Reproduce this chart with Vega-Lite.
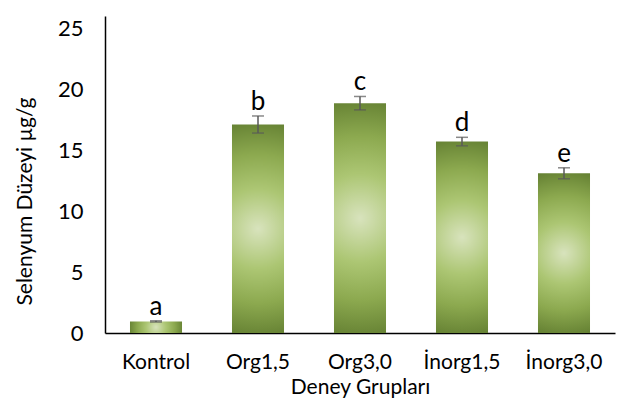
{
  "$schema": "https://vega.github.io/schema/vega-lite/v6.json",
  "width": 510,
  "height": 317,
  "autosize": "none",
  "padding": {"left": 105, "top": 16, "right": 16, "bottom": 74},
  "background": "white",
  "config": {"view": {"stroke": null}, "font": "Lato"},
  "data": {"values": [
    {"grup": "Kontrol", "mean": 0.95, "lo": 0.9, "hi": 1.0, "harf": "a"},
    {"grup": "Org1,5", "mean": 17.1, "lo": 16.4, "hi": 17.8, "harf": "b"},
    {"grup": "Org3,0", "mean": 18.85, "lo": 18.3, "hi": 19.4, "harf": "c"},
    {"grup": "İnorg1,5", "mean": 15.7, "lo": 15.35, "hi": 16.05, "harf": "d"},
    {"grup": "İnorg3,0", "mean": 13.1, "lo": 12.65, "hi": 13.55, "harf": "e"}
  ]},
  "encoding": {
    "x": {"field": "grup", "type": "nominal", "sort": null,
      "scale": {"paddingInner": 0.49, "paddingOuter": 0.245},
      "axis": {"title": "Deney Grupları", "labelAngle": 0, "labelFontSize": 21, "titleFontSize": 21, "titleFontWeight": "normal", "labelColor": "#000", "titleColor": "#000", "ticks": false, "labelPadding": 18, "titlePadding": 4, "domainColor": "#000", "domainWidth": 1.5}}
  },
  "layer": [
    {
      "mark": {"type": "bar", "color": {"gradient": "radial", "x1": 0.5, "y1": 0.5, "r1": 0, "x2": 0.5, "y2": 0.5, "r2": 0.55,
        "stops": [{"offset": 0, "color": "#d8e3bd"}, {"offset": 0.35, "color": "#acc673"}, {"offset": 0.65, "color": "#8ca94f"}, {"offset": 1, "color": "#5e7a2e"}]}},
      "encoding": {
        "y": {"field": "mean", "type": "quantitative",
          "scale": {"domain": [0, 25]},
          "axis": {"title": "Selenyum Düzeyi µg/g", "values": [0, 5, 10, 15, 20, 25], "grid": false, "ticks": false, "labelFontSize": 22, "titleFontSize": 21, "titleFontWeight": "normal", "labelColor": "#000", "titleColor": "#000", "labelPadding": 22, "titlePadding": 22, "titleY": 185, "domainColor": "#000", "domainWidth": 1.5}}
      }
    },
    {
      "mark": {"type": "rule", "color": "#595959", "strokeWidth": 1.5},
      "encoding": {"y": {"field": "lo", "type": "quantitative"}, "y2": {"field": "hi"}}
    },
    {
      "mark": {"type": "tick", "color": "#595959", "thickness": 1.5, "size": 12, "orient": "horizontal"},
      "encoding": {"y": {"field": "lo", "type": "quantitative"}}
    },
    {
      "mark": {"type": "tick", "color": "#595959", "thickness": 1.5, "size": 12, "orient": "horizontal"},
      "encoding": {"y": {"field": "hi", "type": "quantitative"}}
    },
    {
      "mark": {"type": "text", "fontSize": 26, "baseline": "alphabetic", "dy": -6, "color": "#000"},
      "encoding": {"y": {"field": "hi", "type": "quantitative"}, "text": {"field": "harf"}}
    }
  ]
}
